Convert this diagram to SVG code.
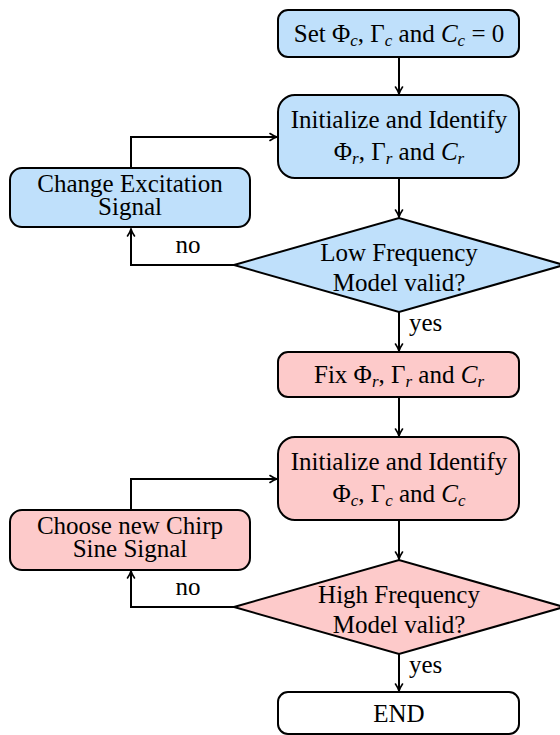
<svg xmlns="http://www.w3.org/2000/svg" width="560" height="735" viewBox="0 0 560 735">
<style>
  .blue { fill: #bfe0fb; stroke: #000; stroke-width: 2; }
  .pink { fill: #fdcaca; stroke: #000; stroke-width: 2; }
  .white { fill: #fff; stroke: #000; stroke-width: 2; }
  text { font-family: "Liberation Serif", "Times New Roman", serif; font-size: 25px; fill: #000; }
  .c { text-anchor: middle; }
  .it { font-style: italic; }
  .sub { font-size: 17px; font-style: italic; }
  .conn { fill: none; stroke: #000; stroke-width: 2; marker-end: url(#arr); }
</style>
<defs>
  <marker id="arr" markerUnits="userSpaceOnUse" markerWidth="12" markerHeight="10" refX="10" refY="5" orient="auto" viewBox="0 0 12 10">
    <path d="M3,1.5 Q7,4.2 10,5 Q7,5.8 3,8.5" fill="none" stroke="#000" stroke-width="1.6" stroke-linecap="round"/>
  </marker>
</defs>

<g id="connectors">
  <path class="conn" d="M399,57 V94"/>
  <path class="conn" d="M399,178 V217"/>
  <path class="conn" d="M399,312 V351"/>
  <path class="conn" d="M399,397 V436"/>
  <path class="conn" d="M399,520 V559"/>
  <path class="conn" d="M399,654 V691"/>
  <path class="conn" d="M234,265 H131 V229"/>
  <path class="conn" d="M131,168 V137 H277"/>
  <path class="conn" d="M234,607 H131 V571"/>
  <path class="conn" d="M131,510 V479 H277"/>
  <text x="188" y="253" class="c">no</text>
  <text x="409" y="331">yes</text>
  <text x="188" y="595" class="c">no</text>
  <text x="409" y="673">yes</text>
</g>

<g id="set">
  <rect class="blue" x="278" y="10" width="241" height="47" rx="10"/>
  <text x="399" y="42" class="c">Set Φ<tspan class="sub" dy="4">c</tspan><tspan dy="-4">, Γ</tspan><tspan class="sub" dy="4">c</tspan><tspan dy="-4"> and </tspan><tspan class="it">C</tspan><tspan class="sub" dy="4">c</tspan><tspan dy="-4"> = 0</tspan></text>
</g>

<g id="init-r">
  <rect class="blue" x="278" y="95" width="241" height="83" rx="17"/>
  <text x="399" y="128" class="c">Initialize and Identify</text>
  <text x="399" y="160" class="c">Φ<tspan class="sub" dy="4">r</tspan><tspan dy="-4">, Γ</tspan><tspan class="sub" dy="4">r</tspan><tspan dy="-4"> and </tspan><tspan class="it">C</tspan><tspan class="sub" dy="4">r</tspan></text>
</g>

<g id="change">
  <rect class="blue" x="10" y="168" width="240" height="59" rx="12"/>
  <text class="c"><tspan x="130" y="192">Change Excitation</tspan><tspan x="130" y="215">Signal</tspan></text>
</g>

<g id="low-valid">
  <polygon class="blue" points="234,265 399,218 564,265 399,312"/>
  <text x="399" y="261" class="c">Low Frequency</text>
  <text x="399" y="291" class="c">Model valid?</text>
</g>

<g id="fix">
  <rect class="pink" x="278" y="352" width="241" height="45" rx="10"/>
  <text x="399" y="383" class="c">Fix Φ<tspan class="sub" dy="4">r</tspan><tspan dy="-4">, Γ</tspan><tspan class="sub" dy="4">r</tspan><tspan dy="-4"> and </tspan><tspan class="it">C</tspan><tspan class="sub" dy="4">r</tspan></text>
</g>

<g id="init-c">
  <rect class="pink" x="278" y="437" width="241" height="83" rx="17"/>
  <text x="399" y="470" class="c">Initialize and Identify</text>
  <text x="399" y="502" class="c">Φ<tspan class="sub" dy="4">c</tspan><tspan dy="-4">, Γ</tspan><tspan class="sub" dy="4">c</tspan><tspan dy="-4"> and </tspan><tspan class="it">C</tspan><tspan class="sub" dy="4">c</tspan></text>
</g>

<g id="choose">
  <rect class="pink" x="10" y="510" width="240" height="60" rx="12"/>
  <text class="c"><tspan x="130" y="534">Choose new Chirp</tspan><tspan x="130" y="557">Sine Signal</tspan></text>
</g>

<g id="high-valid">
  <polygon class="pink" points="234,607 399,560 564,607 399,654"/>
  <text x="399" y="603" class="c">High Frequency</text>
  <text x="399" y="633" class="c">Model valid?</text>
</g>

<g id="end">
  <rect class="white" x="278" y="692" width="241" height="42" rx="10"/>
  <text x="399" y="722" class="c">END</text>
</g>
</svg>
